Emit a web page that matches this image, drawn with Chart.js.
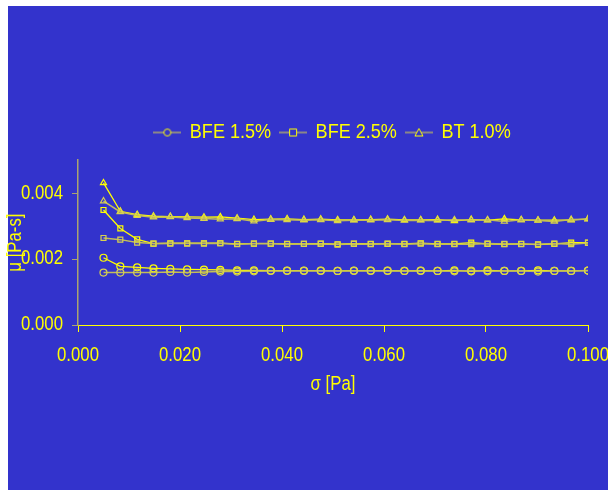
<!DOCTYPE html>
<html>
<head>
<meta charset="utf-8">
<script src="https://cdn.jsdelivr.net/npm/chart.js@4.4.1/dist/chart.umd.min.js"></script>
<style>
  html, body { margin: 0; padding: 0; background: #fff; }
  #wrap { width: 608px; height: 490px; }
</style>
</head>
<body>
<div id="wrap"><canvas id="viscChart" width="608" height="490"></canvas></div>
<script>
// shear stress sigma [Pa]
const sigma = [0.0050, 0.0083, 0.0116, 0.0148, 0.0181, 0.0214, 0.0247, 0.0279, 0.0312, 0.0345,
               0.0378, 0.0410, 0.0443, 0.0476, 0.0509, 0.0541, 0.0574, 0.0607, 0.0640, 0.0672,
               0.0705, 0.0738, 0.0771, 0.0803, 0.0836, 0.0869, 0.0902, 0.0934, 0.0967, 0.1000];

const seriesNames = ['BFE 1.5%', 'BFE 2.5%', 'BT 1.0%'];

// viscosity mu [Pa-s], two runs per sample
const bfe15Run1 = [0.00204, 0.00178, 0.00175, 0.00172, 0.00170, 0.00169, 0.00168, 0.00167, 0.00166, 0.00166,
                   0.00165, 0.00165, 0.00165, 0.00165, 0.00164, 0.00165, 0.00165, 0.00165, 0.00164, 0.00165,
                   0.00164, 0.00166, 0.00163, 0.00166, 0.00164, 0.00164, 0.00166, 0.00164, 0.00164, 0.00165];
const bfe15Run2 = [0.00159, 0.00159, 0.00159, 0.00159, 0.00161, 0.00159, 0.00161, 0.00162, 0.00162, 0.00163,
                   0.00164, 0.00164, 0.00164, 0.00164, 0.00164, 0.00164, 0.00164, 0.00164, 0.00164, 0.00164,
                   0.00164, 0.00163, 0.00165, 0.00163, 0.00164, 0.00164, 0.00162, 0.00164, 0.00164, 0.00165];

const bfe25Run1 = [0.00349, 0.00293, 0.00260, 0.00247, 0.00248, 0.00248, 0.00248, 0.00248, 0.00246, 0.00247,
                   0.00247, 0.00246, 0.00246, 0.00247, 0.00245, 0.00247, 0.00246, 0.00246, 0.00246, 0.00248,
                   0.00246, 0.00246, 0.00250, 0.00246, 0.00245, 0.00246, 0.00244, 0.00246, 0.00250, 0.00250];
const bfe25Run2 = [0.00264, 0.00259, 0.00250, 0.00247, 0.00247, 0.00247, 0.00247, 0.00248, 0.00245, 0.00247,
                   0.00247, 0.00245, 0.00246, 0.00246, 0.00244, 0.00246, 0.00245, 0.00247, 0.00245, 0.00247,
                   0.00245, 0.00245, 0.00245, 0.00247, 0.00246, 0.00245, 0.00245, 0.00247, 0.00245, 0.00249];

const bt10Run1 = [0.00431, 0.00345, 0.00335, 0.00330, 0.00329, 0.00328, 0.00327, 0.00328, 0.00324, 0.00320,
                  0.00321, 0.00322, 0.00320, 0.00321, 0.00319, 0.00319, 0.00320, 0.00321, 0.00319, 0.00319,
                  0.00320, 0.00316, 0.00320, 0.00318, 0.00322, 0.00319, 0.00318, 0.00318, 0.00318, 0.00322];
const bt10Run2 = [0.00376, 0.00343, 0.00332, 0.00327, 0.00328, 0.00325, 0.00323, 0.00321, 0.00322, 0.00315,
                  0.00320, 0.00319, 0.00318, 0.00319, 0.00316, 0.00318, 0.00318, 0.00319, 0.00317, 0.00318,
                  0.00317, 0.00319, 0.00318, 0.00319, 0.00314, 0.00319, 0.00317, 0.00314, 0.00320, 0.00321];

const xTicks = [0, 0.02, 0.04, 0.06, 0.08, 0.1];
const yTicks = [0, 0.002, 0.004];

const BLUE   = '#3333cc';
const YELLOW = '#ffff00';
const OLIVE  = '#aaa470';
const FONT_FAMILY = "'Liberation Sans', Arial, sans-serif";
const TEXT_SQUEEZE = 0.86;   // the original uses a condensed face
const MARKERS = ['circle', 'rect', 'triangle'];

function toPoints(ys) {
  return sigma.map((x, i) => ({ x, y: ys[i] }));
}

// little "line + marker" picture used in the legend
function legendSwatch(style) {
  const c = document.createElement('canvas');
  c.width = 28; c.height = 12;
  const g = c.getContext('2d');
  g.strokeStyle = OLIVE; g.lineWidth = 1.5;
  g.beginPath(); g.moveTo(0, 6); g.lineTo(28, 6); g.stroke();
  g.strokeStyle = YELLOW; g.lineWidth = 1;
  g.fillStyle = BLUE;
  g.beginPath();
  if (style === 'circle') g.arc(14, 6, 3.5, 0, Math.PI * 2);
  else if (style === 'rect') g.rect(10.5, 2.5, 7, 7);
  else { g.moveTo(14, 2); g.lineTo(18, 9.5); g.lineTo(10, 9.5); g.closePath(); }
  g.fill(); g.stroke();
  return c;
}

function makeDataset(name, idx, ys, main) {
  return {
    label: name,
    data: toPoints(ys),
    borderColor: main ? YELLOW : '#c4be58',
    borderWidth: main ? 1.3 : 1.5,
    pointStyle: MARKERS[idx],
    pointRadius: 3.5,
    pointBorderWidth: 1.2,
    pointBorderColor: main ? YELLOW : '#d8d250',
    pointBackgroundColor: 'rgba(0,0,0,0)',
    tension: 0,
    fill: false,
  };
}

const runs = [[bfe15Run1, bfe15Run2], [bfe25Run1, bfe25Run2], [bt10Run1, bt10Run2]];
const datasets = [];
runs.forEach((pair, i) => {
  datasets.push(makeDataset(seriesNames[i], i, pair[1], false));
  datasets.push(makeDataset(seriesNames[i], i, pair[0], true));
});

// narrow the text along its own direction (no condensed font installed)
function squeezeText(ctx) {
  if (ctx._squeezed) return;
  ctx._squeezed = true;
  const fill = ctx.fillText.bind(ctx);
  const measure = ctx.measureText.bind(ctx);
  ctx.fillText = function (text, x, y, maxWidth) {
    ctx.save();
    ctx.translate(x, y);
    ctx.scale(TEXT_SQUEEZE, 1);
    fill(text, 0, 0, maxWidth);
    ctx.restore();
  };
  ctx.measureText = function (text) {
    const m = measure(text);
    return {
      width: m.width * TEXT_SQUEEZE,
      actualBoundingBoxAscent: m.actualBoundingBoxAscent,
      actualBoundingBoxDescent: m.actualBoundingBoxDescent,
    };
  };
}

const backgroundPlugin = {
  id: 'pageBackground',
  beforeInit(chart) { squeezeText(chart.ctx); },
  beforeDraw(chart) {
    const { ctx, width, height } = chart;
    ctx.save();
    ctx.fillStyle = '#ffffff';
    ctx.fillRect(0, 0, width, height);
    ctx.fillStyle = BLUE;
    ctx.fillRect(8, 6, width - 8, height - 6);
    ctx.restore();
  },
};

new Chart(document.getElementById('viscChart'), {
  type: 'line',
  data: { datasets },
  plugins: [backgroundPlugin],
  options: {
    responsive: false,
    animation: false,
    devicePixelRatio: 1,
    layout: { padding: { top: 112, right: 20, bottom: 90, left: 0 } },
    plugins: {
      tooltip: { enabled: false },
      legend: {
        display: true,
        position: 'top',
        fullSize: false,
        labels: {
          color: YELLOW,
          font: { family: FONT_FAMILY, size: 21 },
          usePointStyle: true,
          pointStyleWidth: 24,
          padding: 10,
          generateLabels: () => seriesNames.map((name, i) => ({
            text: name,
            fontColor: YELLOW,
            pointStyle: legendSwatch(MARKERS[i]),
            strokeStyle: YELLOW,
            fillStyle: BLUE,
            lineWidth: 0,
            hidden: false,
            datasetIndex: i * 2,
          })),
        },
      },
      // empty spacer between legend and plot area
      title: {
        display: true,
        text: '',
        weight: 500,
        font: { size: 1 },
        padding: { top: 0, bottom: 6 },
      },
    },
    scales: {
      x: {
        type: 'linear',
        min: 0,
        max: 0.1,
        afterBuildTicks: s => { s.ticks = xTicks.map(v => ({ value: v })); },
        afterFit: s => { s.height = 75; s.paddingLeft = 0; s.paddingRight = 0; },
        border: { color: YELLOW, width: 1 },
        grid: { drawOnChartArea: false, tickLength: 7, color: YELLOW },
        ticks: {
          color: YELLOW,
          font: { family: FONT_FAMILY, size: 19.5 },
          padding: 12,
          maxRotation: 0,
          autoSkip: false,
          callback: v => v.toFixed(3),
        },
        title: {
          display: true,
          text: 'σ [Pa]',
          color: YELLOW,
          font: { family: FONT_FAMILY, size: 19.5 },
          padding: { top: 0, bottom: 4 },
        },
      },
      y: {
        type: 'linear',
        min: 0,
        max: 0.005,
        afterBuildTicks: s => { s.ticks = yTicks.map(v => ({ value: v })); },
        afterFit: s => { s.width = 78; s.paddingTop = 0; s.paddingBottom = 0; },
        border: { color: OLIVE, width: 1.5 },
        grid: { drawOnChartArea: false, tickLength: 6, color: OLIVE },
        ticks: {
          color: YELLOW,
          font: { family: FONT_FAMILY, size: 19.5 },
          padding: 9,
          autoSkip: false,
          callback: v => v.toFixed(3),
        },
        title: {
          display: true,
          text: 'μ [Pa-s]',
          color: YELLOW,
          font: { family: FONT_FAMILY, size: 19.5 },
          padding: { top: 4, bottom: 0 },
        },
      },
    },
  },
});
</script>
</body>
</html>
